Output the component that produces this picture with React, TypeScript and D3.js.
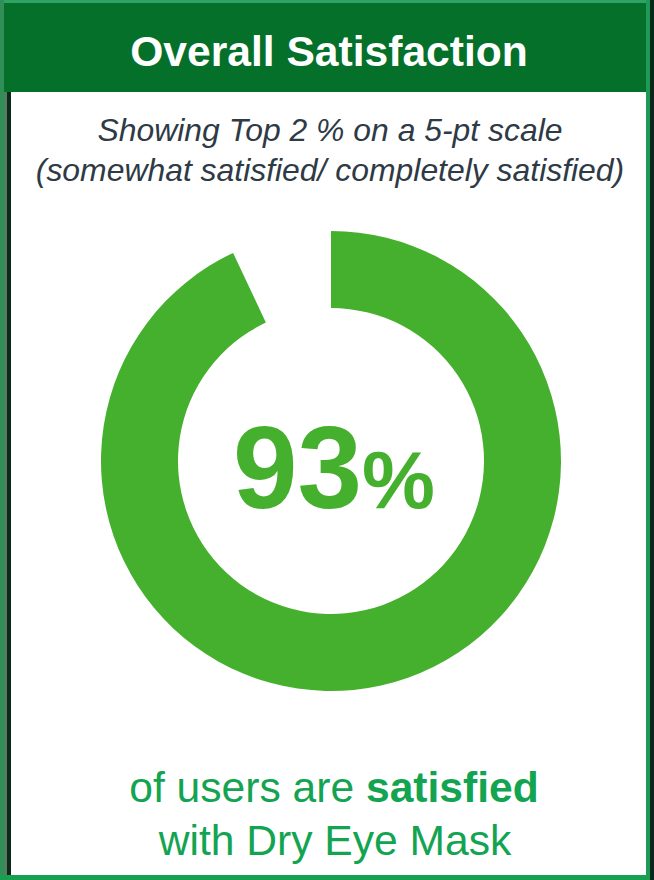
import React, { useEffect, useRef } from "react";
import * as d3 from "d3";

const WIDTH = 654;
const HEIGHT = 880;

const title = "Overall Satisfaction";
const subtitleLines = [
  "Showing Top 2 % on a 5-pt scale",
  "(somewhat satisfied/ completely satisfied)",
];
const categories = ["Satisfied", "Other"];
const values = [93, 7];
const footerLine1 = ["of users are ", "satisfied"];
const footerLine2 = "with Dry Eye Mask";

const FONT = "Arial, 'Liberation Sans', Helvetica, sans-serif";

export default function App() {
  const svgRef = useRef<SVGSVGElement | null>(null);

  useEffect(() => {
    document.body.style.margin = "0";
    const svg = d3.select(svgRef.current);
    svg.selectAll("*").remove();

    // Frame
    svg.append("rect").attr("x", 0).attr("y", 0).attr("width", WIDTH).attr("height", HEIGHT).attr("fill", "#ffffff");
    svg.append("rect").attr("x", 0).attr("y", 0).attr("width", WIDTH).attr("height", 3).attr("fill", "#2ea363");
    svg.append("rect").attr("x", 0).attr("y", 0).attr("width", 4).attr("height", HEIGHT).attr("fill", "#2f8f57");
    svg.append("rect").attr("x", 4).attr("y", 92).attr("width", 3).attr("height", HEIGHT - 92).attr("fill", "#4f7f60");
    svg.append("rect").attr("x", 7).attr("y", 92).attr("width", 4).attr("height", HEIGHT - 92).attr("fill", "#0c2a18");
    svg.append("rect").attr("x", 646).attr("y", 0).attr("width", 4).attr("height", HEIGHT).attr("fill", "#1f9a56");
    svg.append("rect").attr("x", 650).attr("y", 0).attr("width", 4).attr("height", HEIGHT).attr("fill", "#08291a");
    svg.append("rect").attr("x", 0).attr("y", 875).attr("width", 650).attr("height", 5).attr("fill", "#16a050");

    // Header
    svg.append("rect").attr("x", 4).attr("y", 3).attr("width", 642).attr("height", 89).attr("fill", "#04702a");
    svg
      .append("text")
      .attr("x", 329)
      .attr("y", 66)
      .attr("text-anchor", "middle")
      .attr("font-family", FONT)
      .attr("font-weight", "bold")
      .attr("font-size", 42.6)
      .attr("fill", "#ffffff")
      .text(title);

    // Subtitle
    svg
      .append("g")
      .selectAll("text")
      .data(subtitleLines)
      .enter()
      .append("text")
      .attr("x", 330)
      .attr("y", (_d, i) => 141 + i * 40)
      .attr("text-anchor", "middle")
      .attr("font-family", FONT)
      .attr("font-style", "italic")
      .attr("font-size", 31.9)
      .attr("fill", "#2e3a45")
      .text((d) => d);

    // Donut
    const pie = d3
      .pie<number>()
      .sort(null)
      .value((d) => d);
    const arc = d3.arc<d3.PieArcDatum<number>>().innerRadius(153).outerRadius(230);
    svg
      .append("g")
      .attr("transform", "translate(331,461)")
      .selectAll("path")
      .data(pie(values))
      .enter()
      .append("path")
      .attr("d", arc)
      .attr("fill", (_d, i) => (categories[i] === "Satisfied" ? "#45b02d" : "none"));

    // Center value
    const big = svg
      .append("text")
      .attr("x", 334)
      .attr("y", 508)
      .attr("text-anchor", "middle")
      .attr("font-family", FONT)
      .attr("font-weight", "bold")
      .attr("fill", "#45b02d");
    big.append("tspan").attr("font-size", 116).text(String(values[0]));
    big.append("tspan").attr("font-size", 82).text("%");

    // Footer
    const f1 = svg
      .append("text")
      .attr("x", 334)
      .attr("y", 802)
      .attr("text-anchor", "middle")
      .attr("font-family", FONT)
      .attr("font-size", 42.6)
      .attr("fill", "#13a452");
    f1.append("tspan").text(footerLine1[0]);
    f1.append("tspan").attr("font-weight", "bold").text(footerLine1[1]);
    svg
      .append("text")
      .attr("x", 335)
      .attr("y", 855)
      .attr("text-anchor", "middle")
      .attr("font-family", FONT)
      .attr("font-size", 42.6)
      .attr("fill", "#13a452")
      .text(footerLine2);
  }, []);

  return (
    <svg
      ref={svgRef}
      width={WIDTH}
      height={HEIGHT}
      style={{ display: "block", position: "absolute", left: 0, top: 0 }}
    />
  );
}
